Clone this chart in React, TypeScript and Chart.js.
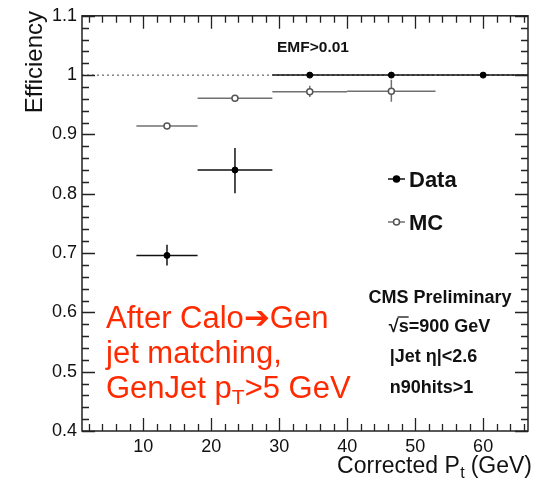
import React, { useEffect, useRef } from "react";
import { Chart, registerables } from "chart.js";

Chart.register(...registerables);

// ---- data ----
const binLow = [9, 18, 29, 40, 53];
const binHigh = [18, 29, 40, 53, 67];
const dataX = [13.5, 23.5, 34.5, 46.5, 60];
const dataEff = [0.696, 0.84, 1.0, 1.0, 1.0];
const dataErrLow = [0.679, 0.801, 1.0, 1.0, 1.0];
const dataErrHigh = [0.714, 0.877, 1.0, 1.0, 1.0];
const mcX = [13.5, 23.5, 34.5, 46.5];
const mcEff = [0.914, 0.961, 0.972, 0.973];
const mcErrLow = [0.912, 0.959, 0.963, 0.955];
const mcErrHigh = [0.916, 0.963, 0.982, 0.992];
const xTicks = [10, 20, 30, 40, 50, 60];
const yTicks = [0.4, 0.5, 0.6, 0.7, 0.8, 0.9, 1.0, 1.1];
const seriesNames = ["Data", "MC"];
const cutLabel = "EMF>0.01";
const infoLines = ["CMS Preliminary", "√s=900 GeV", "|Jet η|<2.6", "n90hits>1"];
const noteLines = ["After Calo➔Gen", "jet matching,", "GenJet p", "T", ">5 GeV"];
const yTitle = "Efficiency";
const xTitleParts = ["Corrected P", "t", " (GeV)"];

const FONT = "'Liberation Sans', Arial, Helvetica, sans-serif";
const RED = "#ff2a00";
const DATA_COLOR = "#111";
const MC_COLOR = "#707070";

function drawErrors(ctx: CanvasRenderingContext2D, x: any, y: any, xs: number[], vals: number[], lo: number[], hi: number[], color: string) {
  ctx.strokeStyle = color;
  ctx.lineWidth = 1.5;
  for (let i = 0; i < xs.length; i++) {
    const py = y.getPixelForValue(vals[i]);
    const px = x.getPixelForValue(xs[i]);
    ctx.beginPath();
    ctx.moveTo(x.getPixelForValue(binLow[i]), py);
    ctx.lineTo(x.getPixelForValue(binHigh[i]), py);
    ctx.stroke();
    if (hi[i] - lo[i] > 0.001) {
      ctx.beginPath();
      ctx.moveTo(px, y.getPixelForValue(lo[i]));
      ctx.lineTo(px, y.getPixelForValue(hi[i]));
      ctx.stroke();
    }
  }
}

const overlay = {
  id: "overlay",
  beforeDatasetsDraw(chart: any) {
    const { ctx, chartArea: a, scales } = chart;
    const x = scales.x;
    const y = scales.y;
    ctx.save();
    ctx.beginPath();
    ctx.rect(a.left, a.top, a.right - a.left, a.bottom - a.top);
    ctx.clip();
    // reference line at 1
    const y1 = y.getPixelForValue(1);
    ctx.setLineDash([2, 3]);
    ctx.strokeStyle = "#444";
    ctx.lineWidth = 1;
    ctx.beginPath();
    ctx.moveTo(a.left, y1);
    ctx.lineTo(a.right, y1);
    ctx.stroke();
    ctx.setLineDash([]);
    drawErrors(ctx, x, y, mcX, mcEff, mcErrLow, mcErrHigh, MC_COLOR);
    drawErrors(ctx, x, y, dataX, dataEff, dataErrLow, dataErrHigh, DATA_COLOR);
    ctx.restore();
  },
  afterDraw(chart: any) {
    const { ctx, chartArea: a, scales } = chart;
    const x = scales.x;
    const y = scales.y;
    ctx.save();
    // frame
    ctx.strokeStyle = "#222";
    ctx.lineWidth = 1.5;
    ctx.strokeRect(a.left, a.top, a.right - a.left, a.bottom - a.top);
    // x ticks (bottom & top)
    ctx.lineWidth = 1.3;
    for (let v = 2; v <= 66; v += 2) {
      const px = Math.round(x.getPixelForValue(v)) + 0.5;
      const len = v % 10 === 0 ? 13 : 7;
      ctx.beginPath();
      ctx.moveTo(px, a.bottom);
      ctx.lineTo(px, a.bottom - len);
      ctx.moveTo(px, a.top);
      ctx.lineTo(px, a.top + len);
      ctx.stroke();
    }
    // y ticks (left & right)
    for (let k = 0; k <= 35; k++) {
      const v = 0.4 + k * 0.02;
      const py = Math.round(y.getPixelForValue(v)) + 0.5;
      const len = k % 5 === 0 ? 13 : 7;
      ctx.beginPath();
      ctx.moveTo(a.left, py);
      ctx.lineTo(a.left + len, py);
      ctx.moveTo(a.right, py);
      ctx.lineTo(a.right - len, py);
      ctx.stroke();
    }

    ctx.fillStyle = "#111";
    // y title
    ctx.save();
    ctx.font = `24px ${FONT}`;
    ctx.translate(42, 11);
    ctx.rotate(-Math.PI / 2);
    ctx.textAlign = "right";
    ctx.textBaseline = "alphabetic";
    ctx.fillText(yTitle, 0, 0);
    ctx.restore();

    // x title with subscript
    ctx.textBaseline = "alphabetic";
    ctx.textAlign = "left";
    const big = `23px ${FONT}`;
    const small = `16px ${FONT}`;
    ctx.font = big;
    const w0 = ctx.measureText(xTitleParts[0]).width;
    const w2 = ctx.measureText(xTitleParts[2]).width;
    ctx.font = small;
    const w1 = ctx.measureText(xTitleParts[1]).width;
    const xEnd = 532;
    const xs = xEnd - (w0 + w1 + w2);
    const tb = 473;
    ctx.font = big;
    ctx.fillText(xTitleParts[0], xs, tb);
    ctx.font = small;
    ctx.fillText(xTitleParts[1], xs + w0 + 0.5, tb + 5);
    ctx.font = big;
    ctx.fillText(xTitleParts[2], xs + w0 + w1, tb);

    // cut label
    ctx.font = `bold 15.5px ${FONT}`;
    ctx.fillText(cutLabel, 277, 52);

    // legend
    const ds = chart.data.datasets;
    const legY = [179, 222];
    const legBase = [187, 230];
    for (let i = 0; i < 2; i++) {
      const col = i === 0 ? DATA_COLOR : MC_COLOR;
      ctx.strokeStyle = col;
      ctx.lineWidth = 1.5;
      ctx.beginPath();
      ctx.moveTo(388, legY[i]);
      ctx.lineTo(405, legY[i]);
      ctx.stroke();
      ctx.beginPath();
      ctx.arc(396.5, legY[i], 3, 0, Math.PI * 2);
      ctx.fillStyle = ds[i].pointBackgroundColor;
      ctx.fill();
      ctx.strokeStyle = ds[i].pointBorderColor;
      ctx.stroke();
      ctx.fillStyle = "#111";
      ctx.font = `bold 22px ${FONT}`;
      ctx.textAlign = "left";
      ctx.fillText(seriesNames[i], 409, legBase[i]);
    }

    // CMS info block
    ctx.font = `bold 18px ${FONT}`;
    ctx.textAlign = "center";
    const cx = [440, 439.5, 433.5, 431.5];
    const cb = [303, 332, 362, 393];
    for (let i = 0; i < infoLines.length; i++) {
      ctx.fillText(infoLines[i], cx[i], cb[i]);
    }
    // overline for sqrt
    ctx.textAlign = "left";
    const sw = ctx.measureText(infoLines[1]).width;
    const rootW = ctx.measureText("√").width;
    const sW = ctx.measureText("s").width;
    const left = cx[1] - sw / 2;
    ctx.strokeStyle = "#111";
    ctx.lineWidth = 1.3;
    ctx.beginPath();
    ctx.moveTo(left + rootW - 1, cb[1] - 15);
    ctx.lineTo(left + rootW + sW, cb[1] - 15);
    ctx.stroke();

    // red note
    ctx.fillStyle = RED;
    ctx.font = `31px ${FONT}`;
    ctx.textAlign = "left";
    ctx.fillText(noteLines[0], 106, 328);
    ctx.fillText(noteLines[1], 106, 363);
    let nx = 106;
    ctx.fillText(noteLines[2], nx, 398);
    nx += ctx.measureText(noteLines[2]).width;
    ctx.font = `21px ${FONT}`;
    ctx.fillText(noteLines[3], nx, 404);
    nx += ctx.measureText(noteLines[3]).width;
    ctx.font = `31px ${FONT}`;
    ctx.fillText(noteLines[4], nx, 398);

    ctx.restore();
  },
};

export default function App() {
  const ref = useRef<HTMLCanvasElement>(null);
  useEffect(() => {
    const chart = new Chart(ref.current as HTMLCanvasElement, {
      type: "scatter",
      data: {
        datasets: [
          {
            label: seriesNames[0],
            data: dataX.map((v, i) => ({ x: v, y: dataEff[i] })),
            pointRadius: 3,
            pointBackgroundColor: "#000",
            pointBorderColor: "#000",
            pointBorderWidth: 1,
            showLine: false,
          },
          {
            label: seriesNames[1],
            data: mcX.map((v, i) => ({ x: v, y: mcEff[i] })),
            pointRadius: 3,
            pointBackgroundColor: "#fff",
            pointBorderColor: "#555",
            pointBorderWidth: 1.5,
            showLine: false,
          },
        ] as any,
      },
      options: {
        animation: false,
        responsive: false,
        maintainAspectRatio: false,
        layout: { padding: { top: 13, right: 12, left: 0, bottom: 0 } },
        plugins: { legend: { display: false }, tooltip: { enabled: false } },
        scales: {
          x: {
            type: "linear",
            min: 1,
            max: 66.6,
            grid: { display: false, drawTicks: false },
            border: { display: false },
            afterBuildTicks: (s: any) => {
              s.ticks = xTicks.map((v) => ({ value: v }));
            },
            afterFit: (s: any) => {
              s.height = 48;
            },
            ticks: {
              padding: 5,
              autoSkip: false,
              maxRotation: 0,
              color: "#111",
              font: { family: FONT, size: 18 },
            },
          },
          y: {
            type: "linear",
            min: 0.4,
            max: 1.1,
            grid: { display: false, drawTicks: false },
            border: { display: false },
            afterBuildTicks: (s: any) => {
              s.ticks = yTicks.map((v) => ({ value: v }));
            },
            afterFit: (s: any) => {
              s.width = 82;
            },
            ticks: {
              padding: 5,
              color: "#111",
              font: { family: FONT, size: 18 },
              callback: (v: any) => String(Number(Number(v).toFixed(1))),
            },
          },
        },
      } as any,
      plugins: [overlay],
    });
    return () => chart.destroy();
  }, []);
  return (
    <div style={{ position: "fixed", left: 0, top: 0, width: 540, height: 479, background: "#fff" }}>
      <canvas ref={ref} width={540} height={479} style={{ display: "block" }} />
    </div>
  );
}
